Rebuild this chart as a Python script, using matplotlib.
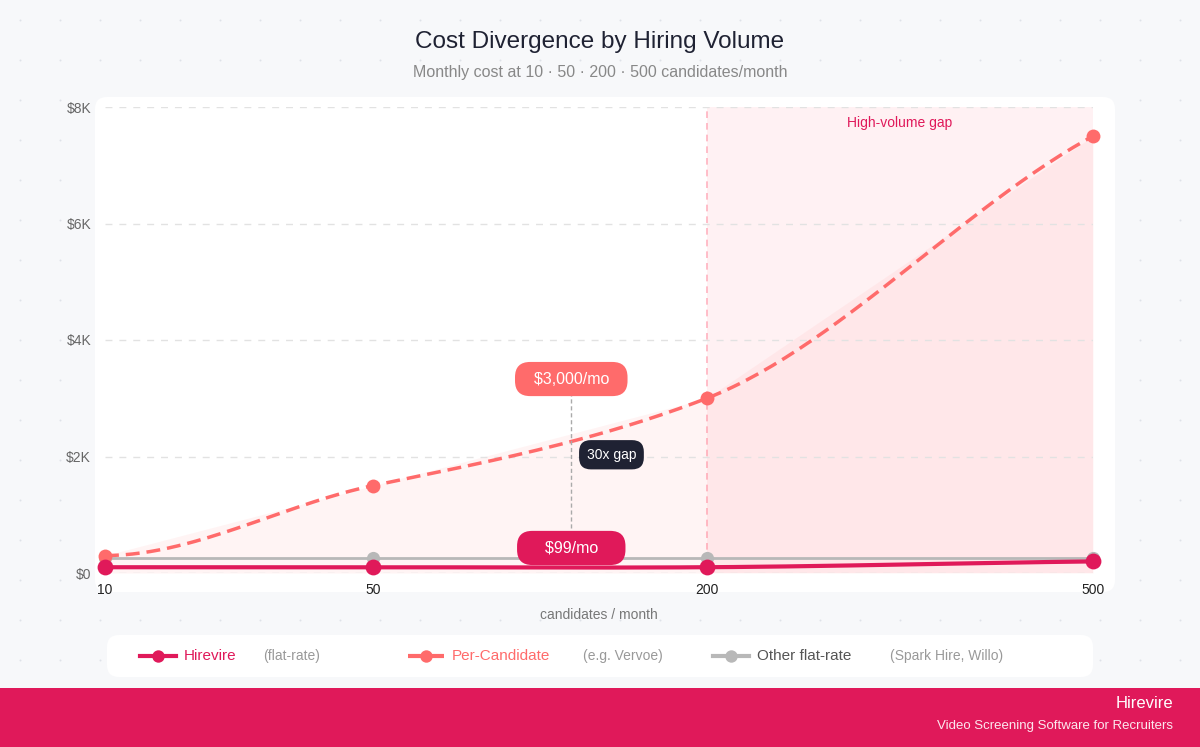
import numpy as np
import matplotlib
matplotlib.use("Agg")
import matplotlib.pyplot as plt
from matplotlib.patches import FancyBboxPatch, Rectangle

plt.rcParams["font.family"] = ["Liberation Sans", "DejaVu Sans"]

# ---------- data ----------
volumes = [10, 50, 200, 500]
x_pos = [0.0, 1.0, 2.246, 3.687]          # axis spacing as drawn in the reference
hirevire = [99, 99, 99, 199]
per_candidate = [300, 1500, 3000, 7500]
other_flat = [250, 250, 250, 250]
y_ticks = [0, 2000, 4000, 6000, 8000]
y_labels = ["$0", "$2K", "$4K", "$6K", "$8K"]

PINK = "#e0195a"
CORAL = "#ff6b6b"
GREY = "#b8b8b8"


def smooth(xs, ys, n=60):
    """Cardinal-spline style curve used only for drawing between points."""
    xs, ys = np.asarray(xs, float), np.asarray(ys, float)
    m = np.zeros_like(ys)
    for i in range(1, len(xs) - 1):
        m[i] = 0.8 * (ys[i + 1] - ys[i - 1]) / (xs[i + 1] - xs[i - 1])
    m[-1] = 0.8 * (ys[-1] - ys[-2]) / (xs[-1] - xs[-2])
    ox, oy = [], []
    for i in range(len(xs) - 1):
        h = xs[i + 1] - xs[i]
        t = np.linspace(0, 1, n)
        h00 = 2*t**3 - 3*t**2 + 1; h10 = t**3 - 2*t**2 + t
        h01 = -2*t**3 + 3*t**2; h11 = t**3 - t**2
        ox.extend(xs[i] + t*h)
        oy.extend(h00*ys[i] + h10*h*m[i] + h01*ys[i+1] + h11*h*m[i+1])
    return np.array(ox), np.array(oy)


fig = plt.figure(figsize=(12, 7.47), dpi=100)
fig.patch.set_facecolor("#f7f8fa")

# dotted background
bg = fig.add_axes([0, 0, 1, 1], zorder=-10)
bg.set_xlim(0, 1200); bg.set_ylim(747, 0); bg.axis("off")
gx, gy = np.meshgrid(np.arange(20, 1200, 40), np.arange(20, 690, 40))
bg.scatter(gx, gy, s=2, color="#dfe2e8", lw=0)
bg.add_patch(FancyBboxPatch((95, 97), 1020, 495, boxstyle="round,pad=0,rounding_size=12",
                            fc="white", ec="none"))
bg.add_patch(FancyBboxPatch((107, 635), 986, 42, boxstyle="round,pad=0,rounding_size=12",
                            fc="white", ec="none"))
bg.add_patch(Rectangle((0, 688), 1200, 59, fc=PINK, ec="none"))
bg.text(1173, 703, "Hirevire", color="white", fontsize=12, ha="right", va="center")
bg.text(1173, 726, "Video Screening Software for Recruiters", color="white", fontsize=9.5,
        ha="right", va="center", alpha=0.9)
bg.text(600, 42, "Cost Divergence by Hiring Volume", fontsize=17.5, ha="center", va="center",
        color="#1f2233")
bg.text(600, 72, "Monthly cost at 10 · 50 · 200 · 500 candidates/month", fontsize=11.5,
        ha="center", va="center", color="#888")

ax = fig.add_axes([105/1200, 1-573/747, (1093-105)/1200, (573-107)/747])
ax.set_facecolor("none")
ax.set_xlim(x_pos[0], x_pos[-1]); ax.set_ylim(0, 8000)
for s in ax.spines.values():
    s.set_visible(False)
ax.set_yticks(y_ticks, y_labels)
ax.set_xticks(x_pos, [str(v) for v in volumes])
ax.tick_params(length=0, labelsize=10, colors="#666")
ax.tick_params(axis="x", colors="#222", pad=7)
ax.tick_params(axis="y", pad=10)
ax.grid(axis="y", ls=(0, (5, 5)), color="#e2e2e2", lw=1)
ax.set_xlabel("candidates / month", fontsize=10, color="#777", labelpad=8)

# high-volume zone
ax.axvspan(x_pos[2], x_pos[3], color="#ffeef0", alpha=0.8, lw=0, zorder=0)
ax.axvline(x_pos[2], color="#ffb3c0", ls=(0, (4, 3)), lw=1.2, zorder=1)
ax.text((x_pos[2] + x_pos[3]) / 2, 7730, "High-volume gap", color=PINK, fontsize=10,
        ha="center", va="center")

# area under per-candidate
ax.fill_between(x_pos, per_candidate, 0, color=CORAL, alpha=0.07, lw=0, zorder=1)

sx, sy = smooth(x_pos, per_candidate)
ax.plot(sx, sy, color=CORAL, lw=2.5, ls=(0, (4, 2)), zorder=3)
ax.scatter(x_pos, per_candidate, s=100, color=CORAL, zorder=4, lw=0, clip_on=False)

ax.plot(x_pos, other_flat, color=GREY, lw=2, zorder=2)
ax.scatter(x_pos, other_flat, s=90, color=GREY, zorder=2, lw=0, clip_on=False)

hx, hy = smooth(x_pos, hirevire)
ax.plot(hx, hy, color=PINK, lw=3, zorder=5, clip_on=False)
ax.scatter(x_pos, hirevire, s=130, color=PINK, zorder=6, lw=0, clip_on=False)

# annotations
xa = 1.74
ax.plot([xa, xa], [780, 3100], color="#aaa", lw=1, ls=(0, (3, 2)), zorder=3)
ax.text(xa, 3330, "  $3,000/mo  ", color="white", fontsize=11.5, ha="center", va="center", zorder=7,
        bbox=dict(boxstyle="round,pad=0.6,rounding_size=0.95", fc=CORAL, ec="none"))
ax.text(xa, 430, "    $99/mo    ", color="white", fontsize=11.5, ha="center", va="center", zorder=7,
        bbox=dict(boxstyle="round,pad=0.6,rounding_size=0.95", fc=PINK, ec="none"))
ax.text(1.89, 2030, "30x gap", color="white", fontsize=10, ha="center", va="center", zorder=7,
        bbox=dict(boxstyle="round,pad=0.55,rounding_size=0.85", fc="#1f2233", ec="none"))

# legend
ly = 656
for x0, col, ls, name, note, nx in [
    (140, PINK, "-", "Hirevire", "(flat-rate)", 263),
    (408, CORAL, "--", "Per-Candidate", "(e.g. Vervoe)", 583),
    (713, GREY, "-", "Other flat-rate", "(Spark Hire, Willo)", 890),
]:
    bg.plot([x0, x0 + 36], [ly, ly], color=col, lw=3, ls=ls)
    bg.scatter([x0 + 18], [ly], s=80, color=col, lw=0, zorder=3)
    bg.text(x0 + 44, ly, name, color=col if col != GREY else "#555", fontsize=11, va="center")
    bg.text(nx, ly, note, color="#999", fontsize=10, va="center")

fig.savefig("out.png", dpi=100, facecolor=fig.get_facecolor())
